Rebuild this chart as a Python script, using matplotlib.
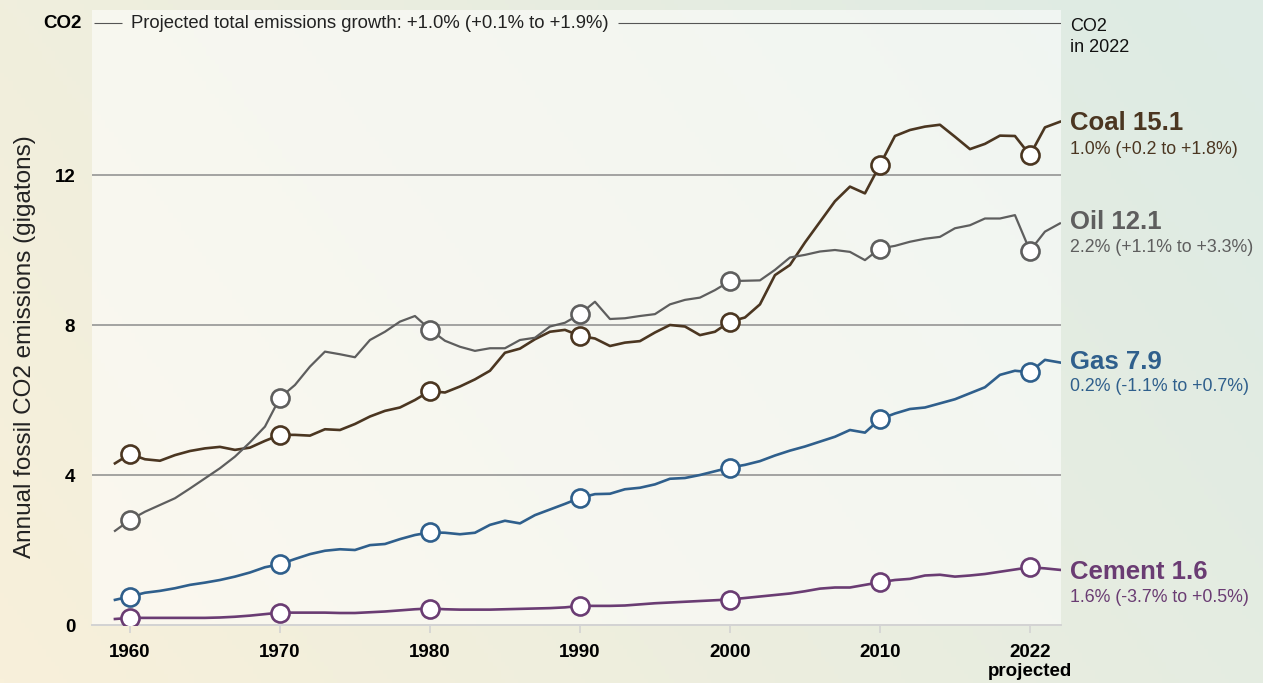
import matplotlib
matplotlib.use('Agg')
import matplotlib.pyplot as plt
import matplotlib.transforms as mtransforms
from matplotlib.patches import Rectangle
import numpy as np

plt.rcParams['font.family'] = ['Liberation Sans', 'DejaVu Sans']

# data (gigatons CO2 per year)
years = np.arange(1959, 2023)
coal = [4.31, 4.56, 4.42, 4.38, 4.53, 4.64, 4.71, 4.75, 4.67, 4.73,
        4.91, 5.07, 5.07, 5.05, 5.22, 5.20, 5.36, 5.56, 5.71, 5.80,
        6.00, 6.24, 6.20, 6.36, 6.55, 6.78, 7.26, 7.37, 7.62, 7.82,
        7.87, 7.71, 7.64, 7.44, 7.53, 7.57, 7.80, 8.00, 7.96, 7.73,
        7.82, 8.09, 8.20, 8.55, 9.33, 9.60, 10.20, 10.75, 11.30, 11.69,
        11.51, 12.27, 13.04, 13.20, 13.29, 13.34, 13.02, 12.69, 12.83, 13.05,
        13.04, 12.53, 13.27, 13.42]
oil = [2.51, 2.80, 3.02, 3.20, 3.38, 3.64, 3.91, 4.18, 4.49, 4.87,
       5.29, 6.06, 6.40, 6.89, 7.29, 7.22, 7.14, 7.60, 7.82, 8.09,
       8.24, 7.88, 7.58, 7.42, 7.31, 7.38, 7.38, 7.60, 7.66, 7.96,
       8.06, 8.29, 8.62, 8.16, 8.18, 8.24, 8.29, 8.55, 8.67, 8.73,
       8.93, 9.17, 9.18, 9.19, 9.47, 9.80, 9.87, 9.96, 10.00, 9.95,
       9.73, 10.04, 10.11, 10.22, 10.30, 10.35, 10.58, 10.66, 10.84, 10.84,
       10.93, 9.98, 10.49, 10.71]
gas = [0.67, 0.76, 0.86, 0.91, 0.98, 1.07, 1.13, 1.20, 1.29, 1.40,
       1.54, 1.62, 1.76, 1.89, 1.98, 2.02, 2.00, 2.13, 2.16, 2.29,
       2.40, 2.47, 2.46, 2.42, 2.46, 2.67, 2.78, 2.71, 2.93, 3.08,
       3.23, 3.39, 3.49, 3.50, 3.62, 3.66, 3.75, 3.90, 3.92, 4.00,
       4.10, 4.20, 4.27, 4.37, 4.52, 4.65, 4.76, 4.89, 5.02, 5.20,
       5.13, 5.49, 5.64, 5.76, 5.80, 5.91, 6.02, 6.18, 6.34, 6.67,
       6.78, 6.74, 7.07, 7.00]
cement = [0.16, 0.19, 0.19, 0.19, 0.19, 0.19, 0.19, 0.20, 0.22, 0.25,
          0.29, 0.33, 0.33, 0.33, 0.33, 0.32, 0.32, 0.34, 0.36, 0.39,
          0.42, 0.44, 0.42, 0.41, 0.41, 0.41, 0.42, 0.43, 0.44, 0.45,
          0.47, 0.51, 0.51, 0.51, 0.52, 0.55, 0.58, 0.60, 0.62, 0.64,
          0.66, 0.68, 0.72, 0.76, 0.80, 0.84, 0.90, 0.97, 1.00, 1.00,
          1.07, 1.14, 1.20, 1.23, 1.32, 1.34, 1.29, 1.32, 1.36, 1.42,
          1.48, 1.54, 1.51, 1.47]

series = [
    ('Coal', coal, '#4b3621', 'Coal 15.1', '1.0% (+0.2 to +1.8%)', 13.39, 12.67),
    ('Oil', oil, '#5e5e5e', 'Oil 12.1', '2.2% (+1.1% to +3.3%)', 10.75, 10.08),
    ('Gas', gas, '#2f5f8c', 'Gas 7.9', '0.2% (-1.1% to +0.7%)', 7.01, 6.37),
    ('Cement', cement, '#6a3c73', 'Cement 1.6', '1.6% (-3.7% to +0.5%)', 1.41, 0.72),
]

xticks = [1960, 1970, 1980, 1990, 2000, 2010, 2020]
xticklabels = ['1960', '1970', '1980', '1990', '2000', '2010', '2022\nprojected']
yticks = [0, 4, 8, 12]

W, H = 1263, 683
fig = plt.figure(figsize=(W / 100, H / 100), dpi=100)

# background gradient: warm cream (bottom-left) -> mint (top-right)
bg = fig.add_axes([0, 0, 1, 1], zorder=-10)
gx, gy = np.meshgrid(np.linspace(0, 1, 300), np.linspace(0, 1, 160))
t = np.clip(0.75 * gx + 0.3 * gy, 0, 1)[..., None]
c0 = np.array([248, 240, 218]) / 255
c1 = np.array([222, 235, 228]) / 255
bg.imshow(c0 * (1 - t) + c1 * t, extent=[0, 1, 0, 1], aspect='auto', origin='lower')
bg.add_patch(Rectangle((92 / W, 1 - 624 / H), (1061 - 92) / W, (624 - 10) / H,
                       transform=bg.transAxes, fc='white', ec='none', alpha=0.55))
bg.set_xlim(0, 1)
bg.set_ylim(0, 1)
bg.axis('off')

ax = fig.add_axes([92 / W, 1 - 625 / H, 969 / W, 615 / H])
ax.patch.set_visible(False)
ax.set_xlim(1957.47, 2022.07)
ax.set_ylim(0, 16.4)

for y in [4, 8, 12]:
    ax.axhline(y, color='#8c8c8c', lw=1.1, zorder=1)

for name, vals, col, title, sub, ty, sy in series:
    vals = np.array(vals)
    ax.plot(years, vals, color=col, lw=1.9 if name != 'Oil' else 1.6, zorder=3,
            solid_joinstyle='round')
    m = years % 10 == 0
    ax.plot(years[m], vals[m], 'o', ms=13, mfc='white', mec=col, mew=1.9, zorder=4)

for s in ['top', 'left', 'right']:
    ax.spines[s].set_visible(False)
ax.spines['bottom'].set_color('#d3d3d3')
ax.spines['bottom'].set_linewidth(1.4)

ax.set_xticks(xticks)
ax.set_xticklabels(xticklabels, fontsize=13.5, fontweight='bold', linespacing=1.15)
ax.tick_params(axis='x', length=6, width=1.2, color='#d3d3d3', pad=8)
ax.set_yticks(yticks)
ax.set_yticklabels([str(v) for v in yticks], fontsize=13.5, fontweight='bold')
ax.tick_params(axis='y', length=0, pad=12)

fig.text(25 / W, 1 - 347 / H, 'Annual fossil CO2 emissions (gigatons)', rotation=90,
         ha='center', va='center', fontsize=17.5, color='#222222')
fig.text(82 / W, 1 - 23 / H, 'CO2', ha='right', va='center', fontsize=13.5,
         fontweight='bold')

# top reference line with text
top_y = 16.05
txt = ax.text(1960.07, top_y, 'Projected total emissions growth: +1.0% (+0.1% to +1.9%)',
              ha='left', va='center', fontsize=13.3, color='#222222')
fig.canvas.draw()
bb = txt.get_window_extent().transformed(ax.transData.inverted())
gap = 9 / 15
ax.hlines(top_y, 1957.6, bb.x0 - gap, color='#555555', lw=0.8)
ax.hlines(top_y, bb.x1 + gap, 2022.07, color='#555555', lw=0.8)

# right-hand labels
tr = mtransforms.blended_transform_factory(ax.transAxes, ax.transData)
lx = 1 + 9 / 969
ax.text(lx, 15.95, 'CO2', transform=tr, ha='left', va='center', fontsize=13, color='#111111')
ax.text(lx, 15.39, 'in 2022', transform=tr, ha='left', va='center', fontsize=13, color='#111111')
for name, vals, col, title, sub, ty, sy in series:
    ax.text(lx, ty, title, transform=tr, ha='left', va='center', fontsize=18.5,
            fontweight='bold', color=col)
    ax.text(lx, sy, sub, transform=tr, ha='left', va='center', fontsize=12.8, color=col)

fig.savefig('out.png', dpi=100)
